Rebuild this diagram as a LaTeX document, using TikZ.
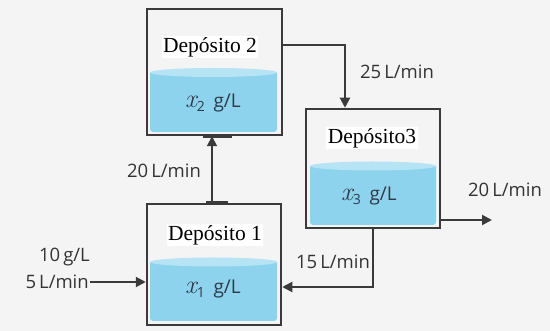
\documentclass[tikz,border=0pt]{standalone}
\usepackage{fontspec}
\setmainfont{Liberation Serif}
\newfontfamily\labelfont{Open Sans}
\newfontfamily\xfont{Latin Modern Roman}
\usetikzlibrary{arrows.meta,calc}
\definecolor{bgc}{HTML}{F4F4F4}
\definecolor{linec}{HTML}{3A3A3A}
\definecolor{liq}{HTML}{8ED3EE}
\definecolor{liqtop}{HTML}{B6E4F5}
\definecolor{txtc}{HTML}{333333}
\definecolor{liqtxt}{HTML}{2C3A4A}
\newcommand\drawliquid[4]{%
  \fill[liq,rounded corners=3pt] (#1,#3) -- (#1,#4) -- (#2,#4) -- (#2,#3);
  \fill[liqtop] ({(#1+#2)/2},#3) ellipse [x radius={(#2-#1)/2}, y radius=4.5];
}
\newcommand\conc[1]{{\xfont\itshape\fontsize{26}{26}\selectfont x}\raisebox{-4pt}{\fontsize{14}{14}\selectfont #1}\hspace{0.45em}g/L}
\tikzset{
  tank/.style={draw=linec, line width=2.5pt, fill=none, inner sep=0pt},
  tanklabel/.style={fill=white, inner sep=1.5pt, font=\fontsize{21.5}{24}\selectfont, text=black},
  liqlabel/.style={inner sep=0pt, font=\labelfont\fontsize{19}{20}\selectfont, text=liqtxt},
  flow/.style={draw=linec, line width=2pt, -{Triangle[length=10pt,width=10pt]}},
  flowlabel/.style={inner sep=0pt, font=\labelfont\fontsize{18.5}{21}\selectfont, text=txtc, align=right},
  stub/.style={draw=linec, line width=3.2pt}
}
\begin{document}
\begin{tikzpicture}[x=1pt,y=-1pt]
\fill[bgc] (0,0) rectangle (550,331);
\useasboundingbox (0,0) rectangle (550,331);

% liquids
\drawliquid{150}{277}{72.5}{132}
\drawliquid{310}{436}{166}{225}
\drawliquid{150}{277}{262}{321}

% tanks
\node[tank, minimum width=135pt, minimum height=126pt] (b2) at (214.5,72) {};
\node[tank, minimum width=134pt, minimum height=119pt] (b3) at (373,168.5) {};
\node[tank, minimum width=134pt, minimum height=121pt] (b1) at (214,264.5) {};

% tank titles
\node[tanklabel] (t2) at (210,47) {Depósito 2};
\node[tanklabel] (t3) at (372,138) {Depósito3};
\node[tanklabel] (t1) at (215,235) {Depósito 1};

% liquid labels
\node[liqlabel] (c2) at (213,103) {\conc{2}};
\node[liqlabel] (c3) at (369,196) {\conc{3}};
\node[liqlabel] (c1) at (213,289) {\conc{1}};

% free ends
\coordinate (in1) at (90,282);
\coordinate (out3) at (492,220);

% connectors
\draw[flow] (b1.north -| 212,0) -- (b2.south -| 212,0);
\draw[flow] (b2.east |- 0,45) -| (b3.north -| 345,0);
\draw[flow] (b3.east |- 0,220) -- (out3);
\draw[flow] (b3.south) |- (b1.east |- 0,287);
\draw[flow] (in1) -- (b1.west |- 0,282);

% pipe stubs
\draw[stub] (b2.south -| 203,0) -- (b2.south -| 232,0);
\draw[stub] (b1.north -| 206,0) -- (b1.north -| 228,0);

% flow labels
\node[flowlabel] (l25) at (397,72) {25\,L/min};
\node[flowlabel] (l20r) at (505,190) {20\,L/min};
\node[flowlabel] (l15) at (333,262) {15\,L/min};
\node[flowlabel] (l20l) at (164,171) {20\,L/min};
\node[flowlabel, anchor=east] (l10) at (90,257) {10\,g/L};
\node[flowlabel, anchor=east] (l5) at (89,282) {5\,L/min};
\end{tikzpicture}
\end{document}
